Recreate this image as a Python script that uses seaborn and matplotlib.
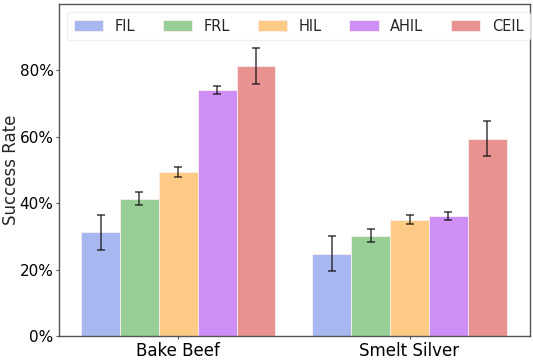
import pandas as pd
import seaborn as sns
import matplotlib.pyplot as plt
from matplotlib.ticker import FuncFormatter

tasks = ["Bake Beef", "Smelt Silver"]
methods = ["FIL", "FRL", "HIL", "AHIL", "CEIL"]
bake_beef = [31.2, 41.4, 49.3, 74.0, 81.3]
smelt_silver = [24.8, 30.2, 35.1, 36.1, 59.4]
bake_beef_err = [5.3, 2.0, 1.5, 1.2, 5.3]
smelt_silver_err = [5.3, 2.0, 1.5, 1.2, 5.3]
colors = ["#a6b8ef", "#97cf96", "#fdcb85", "#cf8ef5", "#e89392"]

rows = []
for task, vals, errs in [(tasks[0], bake_beef, bake_beef_err),
                         (tasks[1], smelt_silver, smelt_silver_err)]:
    for m, v, e in zip(methods, vals, errs):
        rows.append({"task": task, "method": m, "rate": v, "err": e})
df = pd.DataFrame(rows)

sns.set_style("white")
plt.rcParams['font.family'] = ['DejaVu Sans']

fig = plt.figure(figsize=(5.33, 3.61), dpi=100)
ax = fig.add_axes([0.111, 0.069, 0.883, 0.920])

sns.barplot(data=df, x="task", y="rate", hue="method", hue_order=methods,
            palette=colors, saturation=1, width=0.84, gap=0, errorbar=None,
            edgecolor="#fbeeee", linewidth=0.6, ax=ax)

# error bars at bar centres, hue-major patch order
for i, m in enumerate(methods):
    sub = df[df.method == m]
    cont = ax.containers[i]
    xs = [p.get_x() + p.get_width() / 2 for p in cont.patches]
    ax.errorbar(xs, sub.rate.values, yerr=sub.err.values, fmt="none",
                ecolor="#111111", elinewidth=1.1, capsize=3, capthick=1.1,
                alpha=0.8)

ax.set_ylim(0, 100)
ax.set_xlim(-0.515, 1.52)
ax.set_yticks([0, 20, 40, 60, 80])
ax.yaxis.set_major_formatter(FuncFormatter(lambda v, p: f"{int(v)}%"))
ax.set_xlabel("")
ax.set_ylabel("Success Rate", fontsize=12)
ax.yaxis.set_label_coords(-0.083, 0.5)
ax.tick_params(axis="both", length=2.5, pad=1.5, left=True,
               bottom=True, color="#555555", labelcolor="black")
ax.tick_params(axis="x", labelsize=12)
ax.tick_params(axis="y", labelsize=11)
for s in ax.spines.values():
    s.set_color("#555555")
    s.set_linewidth(1.0)

leg = ax.legend(loc="upper left", bbox_to_anchor=(0.017, 0.976), ncol=5,
                borderaxespad=0, fontsize=10.5, frameon=True, framealpha=0.8,
                edgecolor="#eeeeee", fancybox=True, handlelength=2.0,
                handleheight=0.7, columnspacing=1.9, handletextpad=0.8,
                borderpad=0.45)
leg.set_clip_on(False)

fig.savefig("out.png", dpi=100)
